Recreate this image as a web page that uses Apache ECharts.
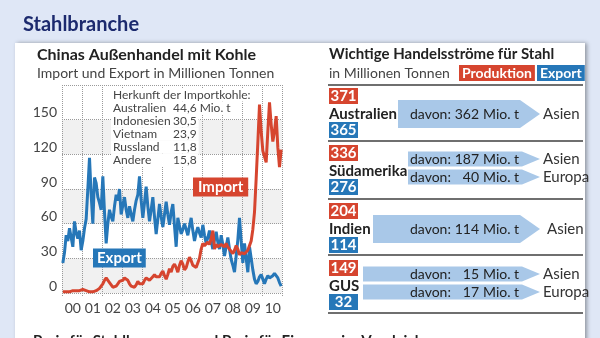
<!DOCTYPE html>
<html><head><meta charset="utf-8">
<script src="https://cdn.jsdelivr.net/npm/echarts@6/dist/echarts.min.js"></script>
<style>html,body{margin:0;padding:0;background:#dfe7f6;}#c{width:600px;height:338px;}</style>
</head><body><div id="c"></div>
<script>
// ---------- data ----------
const years = ['00','01','02','03','04','05','06','07','08','09','10'];
const exportValues = [
26,35,50,45,56,48,40,62,52,47,54,37,
45,56,64,90,117,85,60,100,95,83,78,72,
101,70,43,60,72,66,62,75,85,80,90,68,
76,83,72,65,75,68,62,72,80,85,101,80,
65,78,92,75,62,72,83,66,51,64,77,66,
57,68,79,68,59,70,77,58,40,65,58,51,
55,60,55,50,58,65,54,45,52,57,52,48,
59,50,43,48,54,45,38,46,53,44,38,50,
42,32,40,48,38,29,24,18,32,46,65,45,
26,43,30,18,40,30,20,12,8,10,14,16,
12,8,12,15,13,12,15,17,15,13,9,6];
const importValues = [
1,1,1,1,1,2,2,2,2,2,2,3,
3,2,2,1,1,1,1,1,2,3,4,6,
8,11,13,12,9,7,5,4,6,8,10,9,
11,13,14,11,8,6,5,5,7,10,8,9,
8,11,13,12,11,12,14,16,14,15,14,17,
19,15,12,16,21,18,23,25,22,18,24,28,
25,20,22,27,31,28,24,25,22,22,30,38,
43,41,40,44,42,47,54,38,42,40,39,42,
41,40,43,40,38,36,34,37,41,38,33,35,
36,34,33,37,41,45,55,70,99,130,163,140,
123,118,113,140,165,146,131,140,153,126,109,124];
const yTicks = [0,30,60,90,120,150];
const originCountries = ['Australien','Indonesien','Vietnam','Russland','Andere'];
const originValues = ['44,6 Mio. t','30,5','23,9','11,8','15,8'];
const steelRegions = ['Australien','Südamerika','Indien','GUS'];
const steelProduction = [371,336,204,149];
const steelExport = [365,276,114,32];
const flowAmounts = [[362],[187,40],[114],[15,17]];
const flowTargets = [['Asien'],['Asien','Europa'],['Asien'],['Asien','Europa']];

// ---------- build ----------
const FONT = "Lato, 'Open Sans', sans-serif";
const RED = '#d6452f', BLUE = '#2677b8', ARROW = '#a9c8e8', TXT = '#222';
const months = [];
years.forEach(y => { for (let m = 1; m <= 12; m++) months.push(y + '-' + m); });

const chart = echarts.init(document.getElementById('c'));
const g = [];
// white panel
g.push({type:'rect', shape:{x:15,y:43,width:570,height:320}, style:{fill:'#fff', shadowBlur:4, shadowColor:'rgba(0,0,0,0.35)', shadowOffsetX:2}, z:-10});
g.push({type:'text', x:23, y:25, style:{text:'Stahlbranche', font:'bold 20px '+FONT, fill:'#1c2a6e', verticalAlign:'middle'}});
g.push({type:'text', x:37, y:55, style:{text:'Chinas Außenhandel mit Kohle', font:'bold 16px '+FONT, fill:TXT, verticalAlign:'middle'}});
g.push({type:'text', x:37, y:73, style:{text:'Import und Export in Millionen Tonnen', font:'14px '+FONT, fill:'#444', verticalAlign:'middle'}});
// Herkunft box
g.push({type:'text', x:111, y:95, z:6, style:{text:'Herkunft der Importkohle:', font:'12px '+FONT, fill:'#444', verticalAlign:'middle', backgroundColor:'#fff', padding:[1,2,0,2]}});
originCountries.forEach((c,i) => {
  const y = 108 + i*13;
  g.push({type:'rect', z:5, shape:{x:111, y:y-6.5, width:62, height:13}, style:{fill:'#fff'}});
  g.push({type:'text', x:113, y:y, z:6, style:{text:c, font:'12px '+FONT, fill:'#444', verticalAlign:'middle'}});
  g.push({type:'text', x:171, y:y, z:6, style:{text:originValues[i], font:'12px '+FONT, fill:'#444', verticalAlign:'middle', backgroundColor:'#fff', padding:[1,2,0,2]}});
});
// series labels
g.push({type:'text', x:193, y:187, z:6, style:{text:'Import', font:'bold 15px '+FONT, fill:'#fff', backgroundColor:RED, padding:[2,5,2,5], verticalAlign:'middle'}});
g.push({type:'text', x:93, y:258, z:6, style:{text:'Export', font:'bold 15px '+FONT, fill:'#fff', backgroundColor:BLUE, padding:[2,4,2,4], verticalAlign:'middle'}});

// right panel
g.push({type:'text', x:329, y:54, style:{text:'Wichtige Handelsströme für Stahl', font:'bold 15px '+FONT, fill:TXT, verticalAlign:'middle'}});
g.push({type:'text', x:329, y:73, style:{text:'in Millionen Tonnen', font:'14px '+FONT, fill:'#444', verticalAlign:'middle'}});
g.push({type:'text', x:459, y:73, style:{text:'Produktion', font:'bold 14px '+FONT, fill:'#fff', backgroundColor:RED, padding:[1,3,1,3], verticalAlign:'middle'}});
g.push({type:'text', x:537, y:73, style:{text:'Export', font:'bold 14px '+FONT, fill:'#fff', backgroundColor:BLUE, padding:[1,3,1,3], verticalAlign:'middle'}});
[85,141,199,255,313].forEach(y => g.push({type:'line', shape:{x1:328,y1:y,x2:583,y2:y}, style:{stroke:'#6f6f6f', lineWidth:2}}));
const rowTop = [88,145,203,260];
const arrowLeft = [398,408,373,363];
function arrow(x0, yc, h, tip) {
  const x1 = 540;
  return {type:'polygon', shape:{points:[[x0,yc-h/2],[x1-tip,yc-h/2],[x1,yc],[x1-tip,yc+h/2],[x0,yc+h/2]]}, style:{fill:ARROW}};
}
steelRegions.forEach((r,i) => {
  const t = rowTop[i];
  g.push({type:'rect', shape:{x:329,y:t,width:29,height:16}, style:{fill:RED}});
  g.push({type:'text', x:343.5, y:t+8, style:{text:String(steelProduction[i]), font:'bold 15px '+FONT, fill:'#fff', align:'center', verticalAlign:'middle'}});
  g.push({type:'text', x:329, y:t+26, style:{text:r, font:'bold 15px '+FONT, fill:TXT, verticalAlign:'middle'}});
  g.push({type:'rect', shape:{x:329,y:t+34,width:29,height:16}, style:{fill:BLUE}});
  g.push({type:'text', x:343.5, y:t+42, style:{text:String(steelExport[i]), font:'bold 15px '+FONT, fill:'#fff', align:'center', verticalAlign:'middle'}});
  const flows = flowAmounts[i];
  const centers = flows.length === 1 ? [t+26] : [t+14, t+32];
  const h = flows.length === 1 ? 28 : 15;
  flows.forEach((v,k) => {
    const yc = centers[k];
    g.push(arrow(arrowLeft[i], yc, h, flows.length === 1 ? 20 : 18));
    g.push({type:'text', x:410, y:yc, style:{text:'davon:', font:'14px '+FONT, fill:TXT, verticalAlign:'middle'}});
    g.push({type:'text', x:479, y:yc, style:{text:String(v), font:'14px '+FONT, fill:TXT, align:'right', verticalAlign:'middle'}});
    g.push({type:'text', x:483, y:yc, style:{text:'Mio. t', font:'14px '+FONT, fill:TXT, verticalAlign:'middle'}});
    g.push({type:'text', x:flows.length === 1 && i === 2 ? 547 : 543, y:yc, style:{text:flowTargets[i][k], font:'15px '+FONT, fill:'#333', verticalAlign:'middle'}});
  });
});
g.push({type:'text', x:33, y:341, style:{text:'Preis für Stahlbrammen und Preis für Eisenerz im Vergleich', font:'bold 15px '+FONT, fill:TXT, verticalAlign:'middle'}});

chart.setOption({
  animation:false,
  backgroundColor:'transparent',
  grid:{left:62, right:318, top:85, bottom:45},
  xAxis:{type:'category', data:months, boundaryGap:true,
    axisLine:{show:false},
    axisTick:{show:true, interval:(i)=> i%12===0, length:4, lineStyle:{color:'#999', type:'dotted'}},
    splitLine:{show:true, interval:(i)=> i%12===0, lineStyle:{color:'#9a9a9a', type:'dotted'}},
    axisLabel:{interval:(i)=> i%12===6, formatter:(v)=> v.split('-')[0], color:'#444', fontSize:14, fontFamily:FONT, margin:8}
  },
  yAxis:{type:'value', min:0, max:180, interval:30,
    axisLine:{show:false}, axisTick:{show:false},
    splitLine:{show:true, lineStyle:{color:'#9a9a9a', type:'dotted'}},
    splitArea:{show:true, areaStyle:{color:['#f1f1f1','#ffffff']}},
    axisLabel:{showMaxLabel:false, formatter:(v)=> yTicks.includes(v) ? String(v) : '', verticalAlign:'bottom', color:'#444', fontSize:14, fontFamily:FONT, margin:5}
  },
  series:[
    {name:'Export', type:'line', data:exportValues, symbol:'none', lineStyle:{color:BLUE, width:3}, z:3},
    {name:'Import', type:'line', data:importValues, symbol:'none', lineStyle:{color:RED, width:3}, z:4}
  ],
  graphic:g
});
</script></body></html>
